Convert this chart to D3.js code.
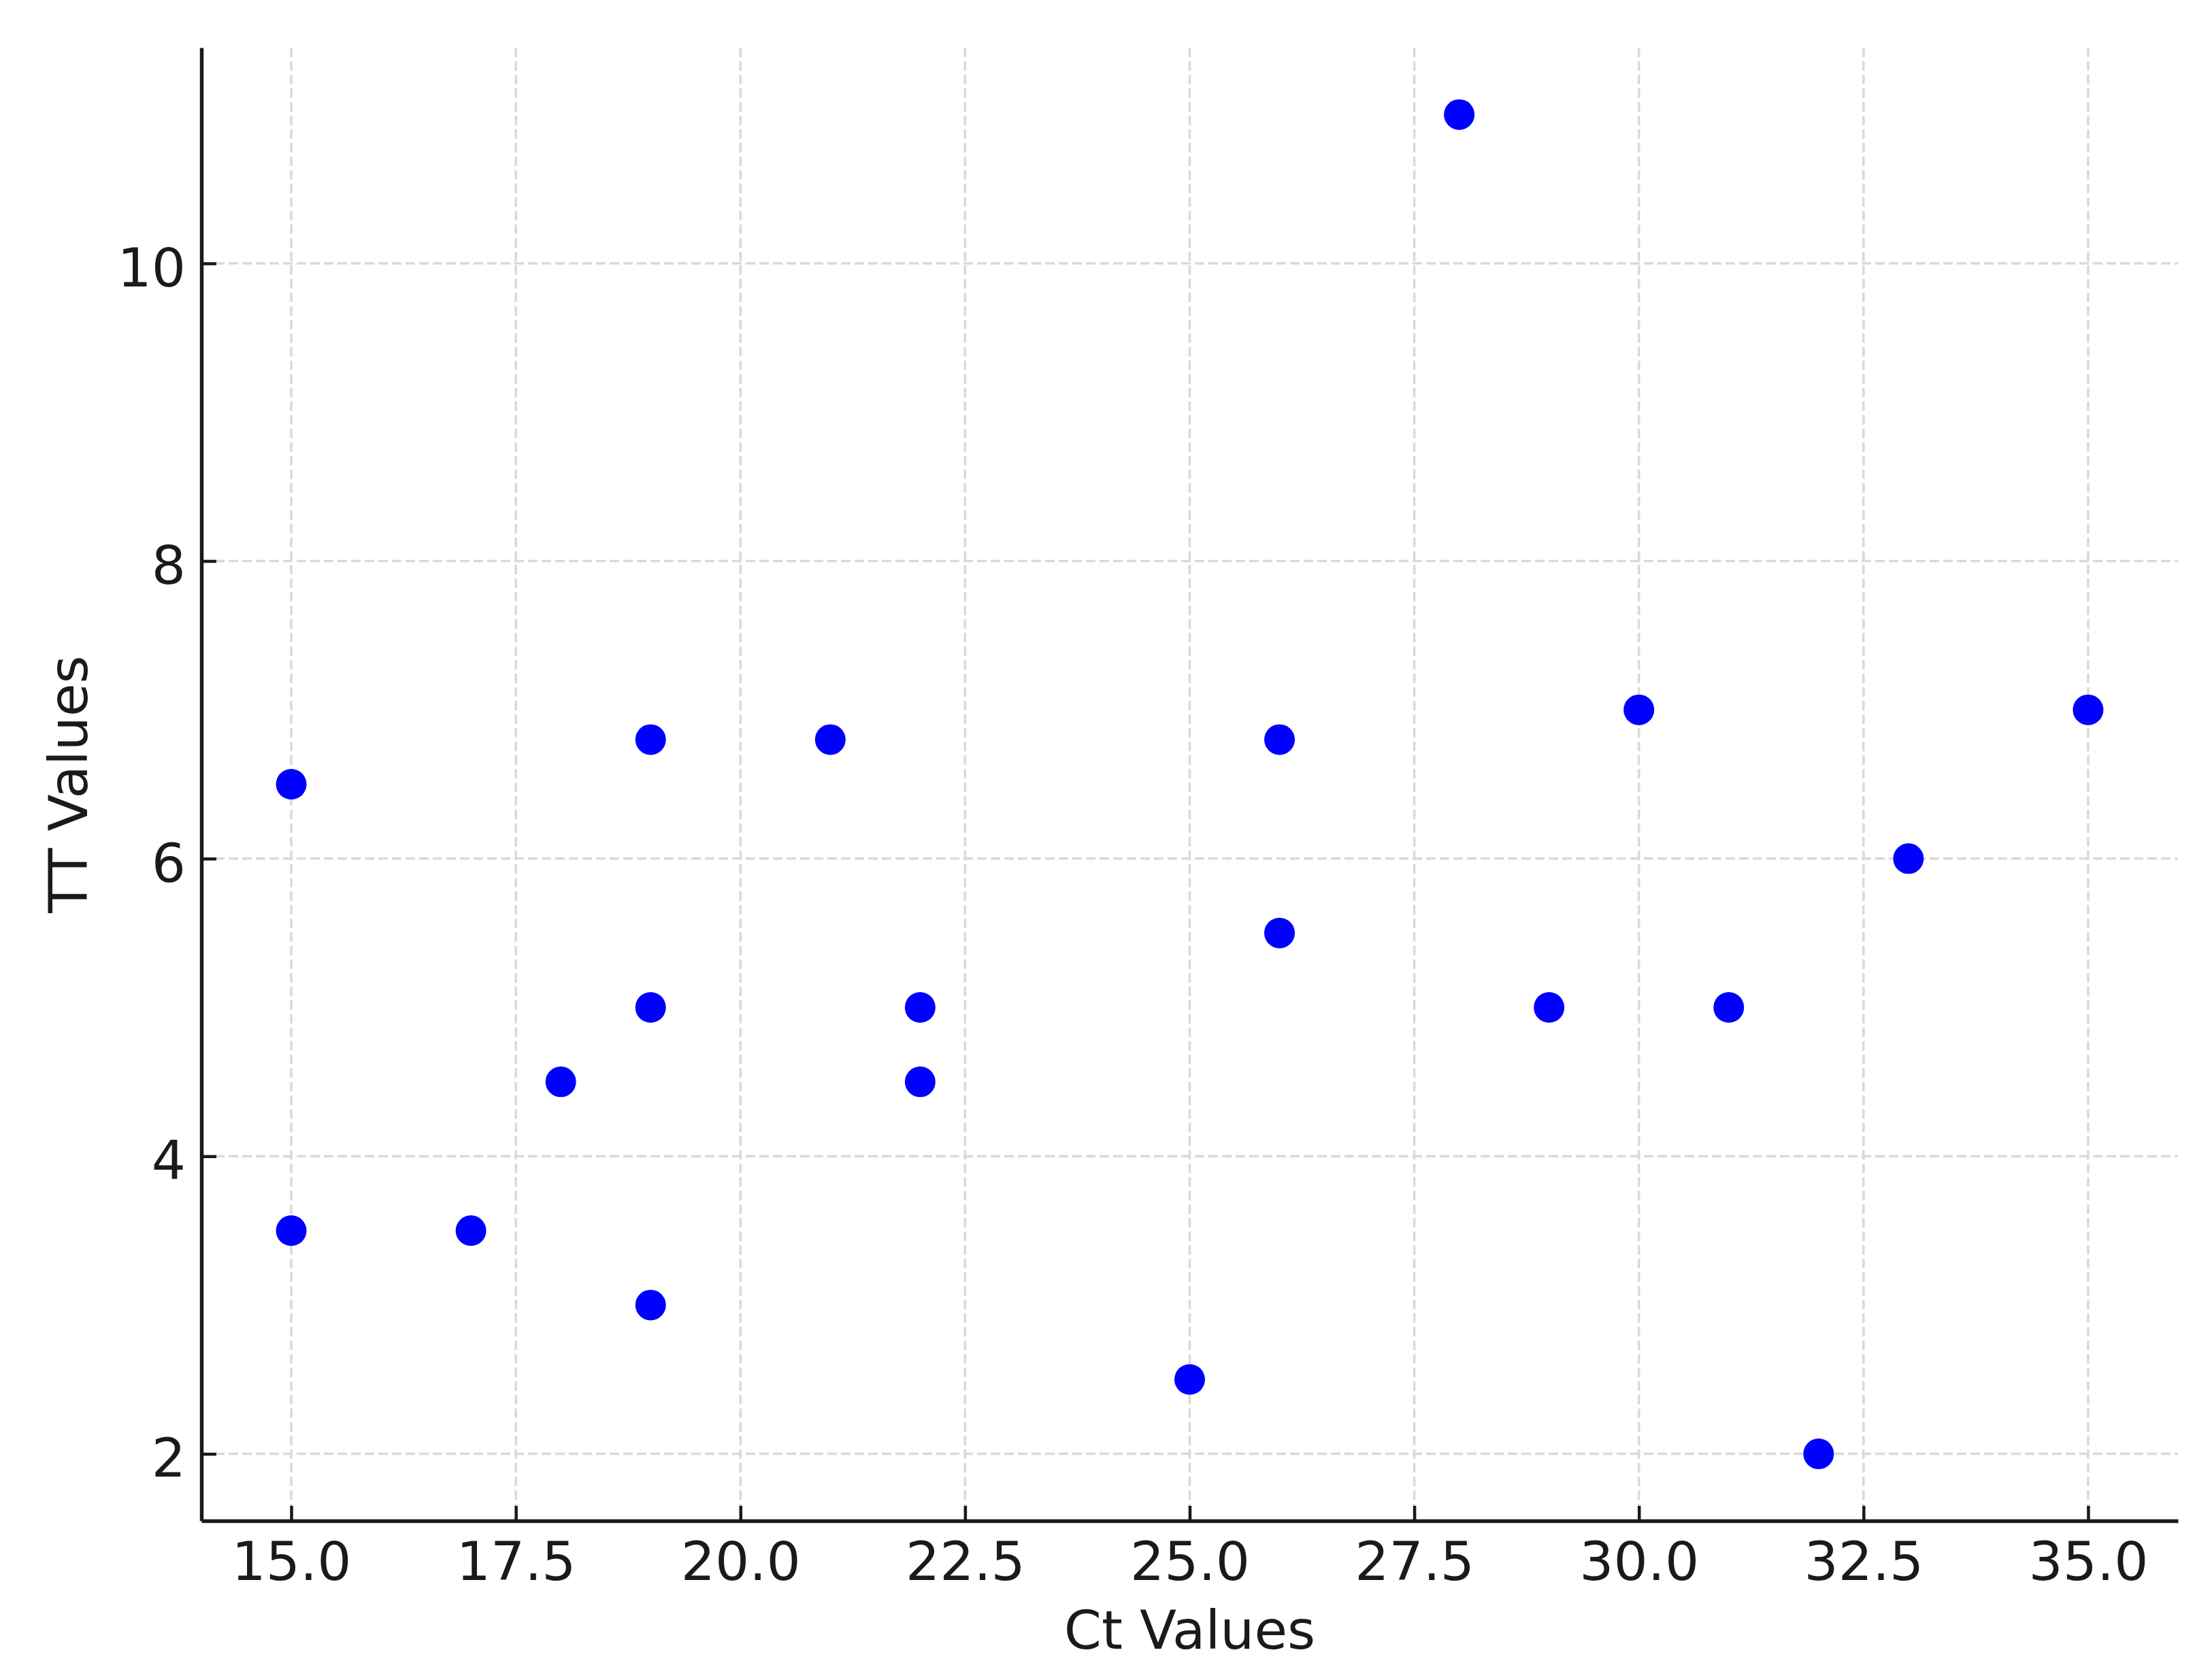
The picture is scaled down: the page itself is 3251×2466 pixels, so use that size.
<!DOCTYPE html>
<meta charset="utf-8">
<head>
    <script src="https://d3js.org/d3.v7.min.js"></script>
    <style>
        body {
            margin: 0px;
            padding: 0px;
            background: white;
        }

        text {
            font-family: 'DejaVu Sans', sans-serif;
            fill: #1a1a1a;
        }
    </style>
    <title>Ct vs TT</title>
</head>

<body>
    <div id="chart"></div>

    <script>
        // values
        var ctValues = [15, 15, 17, 18, 19, 19, 19, 21, 22, 22,
                        25, 26, 26, 28, 29, 30, 31, 32, 33, 35];
        var ttValues = [6.5, 3.5, 3.5, 4.5, 6.8, 5, 3, 6.8, 5, 4.5,
                        2.5, 6.8, 5.5, 11, 5, 7, 5, 2, 6, 7];

        var xTicks = [15, 17.5, 20, 22.5, 25, 27.5, 30, 32.5, 35];
        var yTicks = [2, 4, 6, 8, 10];

        var width = 3251,
            height = 2466;

        // plot area edges (window.top is taken, so own names)
        var plotLeft = 296,
            plotRight = 3201,
            plotTop = 70,
            plotBottom = 2235;

        var svg = d3.select("#chart").append("svg")
            .attr("width", width)
            .attr("height", height);

        svg.append("rect")
            .attr("width", width)
            .attr("height", height)
            .attr("fill", "white");

        // matplotlib style 5% margin around the data
        var x = d3.scaleLinear()
            .domain([14, 36])
            .range([plotLeft, plotRight]);

        var y = d3.scaleLinear()
            .domain([1.55, 11.45])
            .range([plotBottom, plotTop]);

        //grid lines
        var grid = svg.append("g")
            .attr("stroke", "#d9d9d9")
            .attr("stroke-width", 3.5)
            .attr("stroke-dasharray", "14,6");

        grid.selectAll(".vgrid")
            .data(xTicks)
            .enter().append("line")
            .attr("class", "vgrid")
            .attr("x1", function (d) { return x(d); })
            .attr("x2", function (d) { return x(d); })
            .attr("y1", plotTop)
            .attr("y2", plotBottom);

        grid.selectAll(".hgrid")
            .data(yTicks)
            .enter().append("line")
            .attr("class", "hgrid")
            .attr("x1", plotLeft)
            .attr("x2", plotRight)
            .attr("y1", function (d) { return y(d); })
            .attr("y2", function (d) { return y(d); });

        //points
        svg.append("g")
            .selectAll("circle")
            .data(ctValues)
            .enter().append("circle")
            .attr("cx", function (d) { return x(d); })
            .attr("cy", function (d, i) { return y(ttValues[i]); })
            .attr("r", 22.5)
            .attr("fill", "#0000ff");

        //axes, ticks point inward
        var xAxis = d3.axisBottom(x)
            .tickValues(xTicks)
            .tickFormat(d3.format(".1f"))
            .tickSizeInner(-22)
            .tickSizeOuter(0)
            .tickPadding(31);

        var yAxis = d3.axisLeft(y)
            .tickValues(yTicks)
            .tickFormat(d3.format("d"))
            .tickSizeInner(-22)
            .tickSizeOuter(0)
            .tickPadding(23);

        var gx = svg.append("g")
            .attr("transform", "translate(0," + plotBottom + ")")
            .call(xAxis);

        var gy = svg.append("g")
            .attr("transform", "translate(" + plotLeft + ",0)")
            .call(yAxis);

        [gx, gy].forEach(function (g) {
            g.select(".domain")
                .attr("stroke", "#1a1a1a")
                .attr("stroke-width", 5.5);
            g.selectAll(".tick line")
                .attr("stroke", "#1a1a1a")
                .attr("stroke-width", 4.5);
            g.selectAll(".tick text")
                .style("font-size", "79px")
                .style("font-family", "'DejaVu Sans', sans-serif")
                .attr("fill", "#1a1a1a");
        });

        gy.selectAll(".tick text").attr("dy", "0.42em");

        //axis titles
        svg.append("text")
            .attr("x", (plotLeft + plotRight) / 2)
            .attr("y", 2423)
            .attr("text-anchor", "middle")
            .style("font-size", "79px")
            .text("Ct Values");

        svg.append("text")
            .attr("transform", "translate(128," + ((plotTop + plotBottom) / 2) + ") rotate(-90)")
            .attr("text-anchor", "middle")
            .style("font-size", "79px")
            .text("TT Values");
    </script>
</body>
